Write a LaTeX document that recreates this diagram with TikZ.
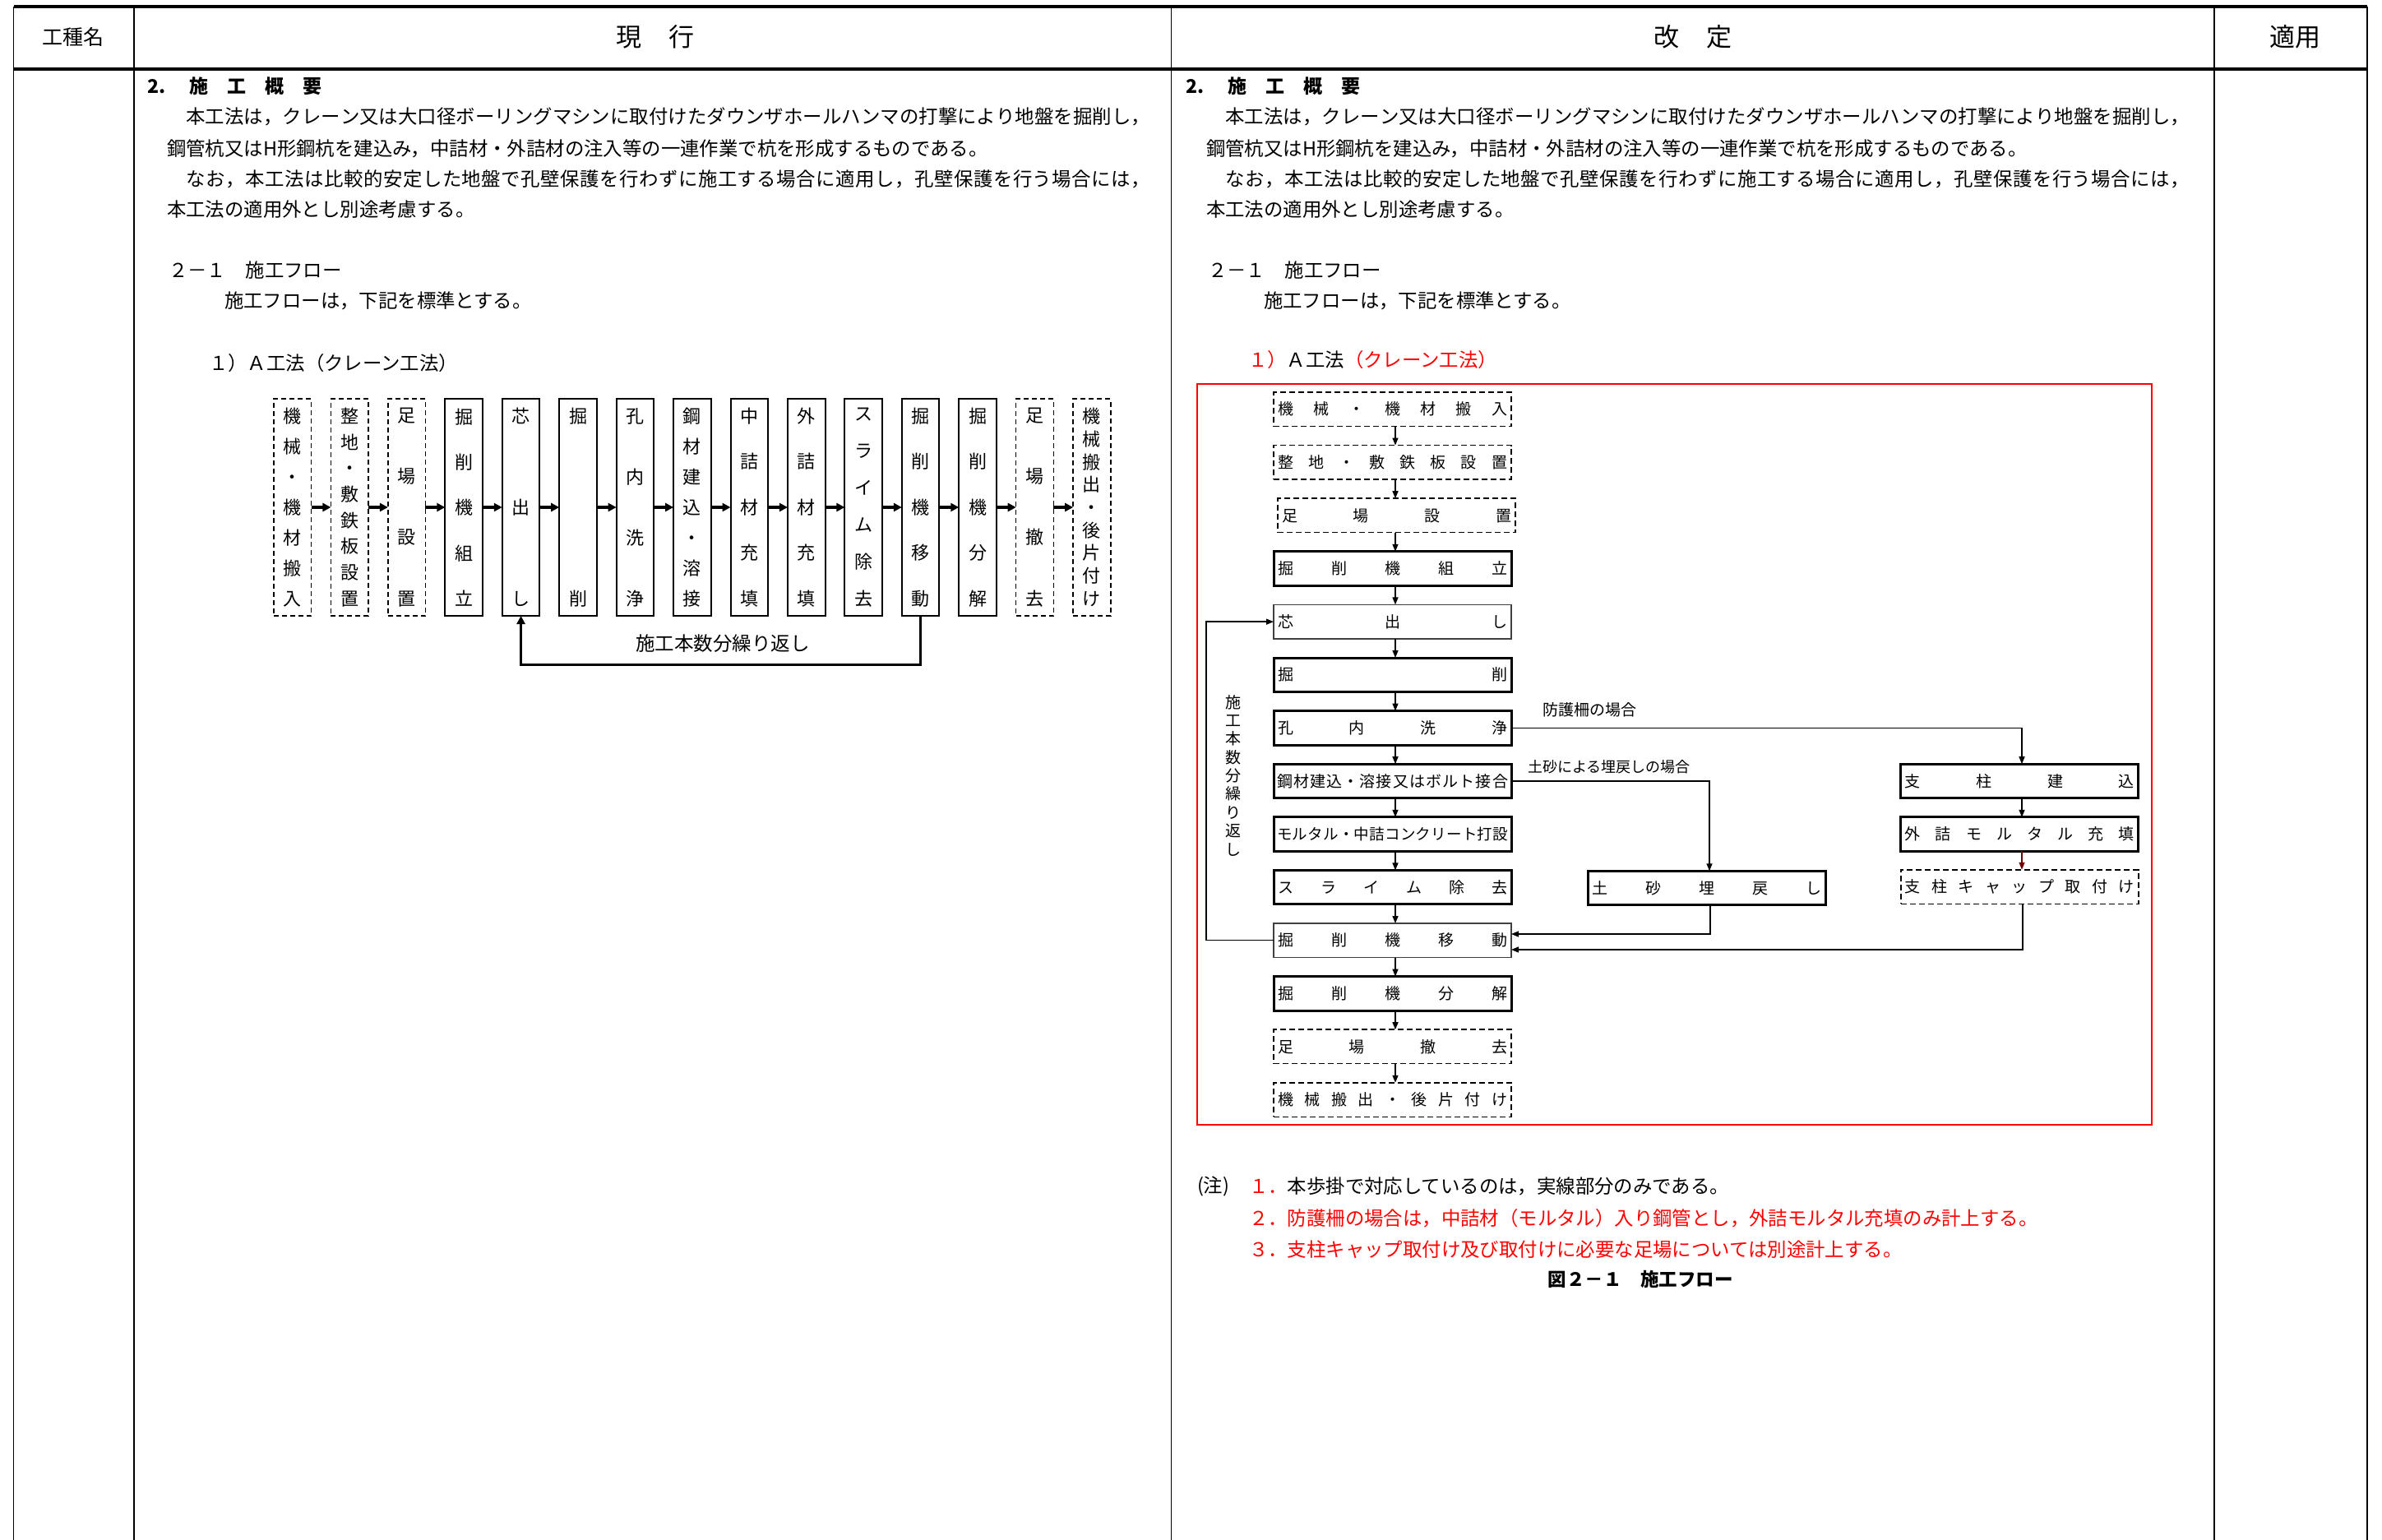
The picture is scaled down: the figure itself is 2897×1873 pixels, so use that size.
\documentclass[tikz,border=0pt]{standalone}
\usepackage{fontspec}
\setmainfont{Noto Sans CJK JP}
\usetikzlibrary{arrows.meta}
\newcommand\fsz[1]{\fontsize{#1}{#1}\selectfont}
\ExplSyntaxOn
\tl_new:N \l_mydist_tl
\NewDocumentCommand\HD{mm}{
  \hbox_to_wd:nn {#1} {
    \tl_set:Nx \l_mydist_tl {#2}
    \bool_set_true:N \l_tmpa_bool
    \tl_map_inline:Nn \l_mydist_tl {
      \bool_if:NTF \l_tmpa_bool {\bool_set_false:N \l_tmpa_bool} {\hfill}
      ##1
    }
  }
}
\NewDocumentCommand\VD{mm}{
  \parbox[c][#1][s]{1.2em}{
    \tl_set:Nx \l_mydist_tl {#2}
    \bool_set_true:N \l_tmpa_bool
    \tl_map_inline:Nn \l_mydist_tl {
      \bool_if:NTF \l_tmpa_bool {\bool_set_false:N \l_tmpa_bool} {\par\vfill}
      \hbox_to_wd:nn {\hsize} {\hss ##1 \hss}
    }
  }
}
\ExplSyntaxOff
\definecolor{darkred}{RGB}{110,0,0}
\begin{document}
\begin{tikzpicture}[x=1pt,y=-1pt,
  every node/.style={inner sep=0pt, outer sep=0pt},
  tline/.style={line width=1.5pt},
  thline/.style={line width=4pt},
  txt/.style={anchor=west, font=\fsz{23.4}},
  txtb/.style={anchor=west, font=\fsz{23}\bfseries},
  lbox/.style={draw, line width=2pt, minimum width=45.6, minimum height=264, font=\fsz{22}},
  ldash/.style={lbox, line width=1.5pt, dash pattern=on 6pt off 4pt},
  rbox/.style={draw, line width=3pt, minimum width=289, minimum height=41.5, font=\fsz{19}},
  rthin/.style={rbox, line width=1.5pt, draw=black!75},
  rdash/.style={rbox, line width=1.5pt, dash pattern=on 7pt off 4pt},
  arr/.style={-{Triangle[length=9pt,width=7pt]}, line width=1.4pt},
  larr/.style={-{Triangle[length=10pt,width=10pt]}, line width=3.5pt},
  lbl/.style={anchor=west, font=\fsz{19}}
]
\fill[white] (0,0) rectangle (2897,1873);
\useasboundingbox (0,0) rectangle (2897,1873);

% ---------- table ----------
\draw[thline] (16.6,8) -- (2879,8);
\draw[thline] (16.6,84) -- (2879,84);
\foreach \xx in {16.6,163,1424.5,2693,2879}
  \draw[tline] (\xx,8) -- (\xx,1873);

\node[font=\fsz{25}] (hA) at (89,45) {工種名};
\node[font=\fsz{31}] (hB) at (797,45) {現\hspace{33pt}行};
\node[font=\fsz{31}] (hC) at (2059,45) {改\hspace{33pt}定};
\node[font=\fsz{31}] (hD) at (2791,45) {適用};

% ---------- left column (現行) ----------
\node[txtb] (L0) at (179,105) {2.\hspace{29pt}施　工　概　要};
\node[txt] (L1) at (203,142) {\HD{1196pt}{　本工法は，クレーン又は大口径ボーリングマシンに取付けたダウンザホールハンマの打撃により地盤を掘削し，}};
\node[txt] (L2) at (203,181) {鋼管杭又はH形鋼杭を建込み，中詰材・外詰材の注入等の一連作業で杭を形成するものである。};
\node[txt] (L3) at (203,218) {\HD{1196pt}{　なお，本工法は比較的安定した地盤で孔壁保護を行わずに施工する場合に適用し，孔壁保護を行う場合には，}};
\node[txt] (L4) at (203,255) {本工法の適用外とし別途考慮する。};
\node[txt] (L5) at (205,329) {２－１　施工フロー};
\node[txt] (L6) at (273,366) {施工フローは，下記を標準とする。};
\node[txt] (L7) at (254,442) {１）Ａ工法（クレーン工法）};

% horizontal flow
\foreach \i/\t/\s in {1/機械・機材搬入/ldash, 2/整地・敷鉄板設置/ldash, 3/足場設置/ldash,
  4/掘削機組立/lbox, 5/芯出し/lbox, 6/掘削/lbox, 7/孔内洗浄/lbox, 8/鋼材建込・溶接/lbox,
  9/中詰材充填/lbox, 10/外詰材充填/lbox, 11/スライム除去/lbox, 12/掘削機移動/lbox,
  13/掘削機分解/lbox, 14/足場撤去/ldash, 15/機械搬出・後片付け/ldash}
  \node[\s] (l\i) at ({355.8+69.44*(\i-1)},617) {\VD{240pt}{\t}};
\foreach \i in {1,...,14}{
  \pgfmathtruncatemacro\j{\i+1}
  \draw[larr] (l\i.east) -- (l\j.west);
}
\coordinate (lb) at (0,808);
\draw[-{Triangle[length=10pt,width=10pt]}, line width=3pt]
  (l12.south) -- (l12.south |- lb) -- (l5.south |- lb) -- (l5.south);
\node[font=\fsz{23.5}] (ll) at (879,783) {施工本数分繰り返し};

% ---------- right column (改定) ----------
\node[txtb] (R0) at (1442,105) {2.\hspace{29pt}施　工　概　要};
\node[txt] (R1) at (1467,142) {\HD{1196pt}{　本工法は，クレーン又は大口径ボーリングマシンに取付けたダウンザホールハンマの打撃により地盤を掘削し，}};
\node[txt] (R2) at (1467,181) {鋼管杭又はH形鋼杭を建込み，中詰材・外詰材の注入等の一連作業で杭を形成するものである。};
\node[txt] (R3) at (1467,218) {\HD{1196pt}{　なお，本工法は比較的安定した地盤で孔壁保護を行わずに施工する場合に適用し，孔壁保護を行う場合には，}};
\node[txt] (R4) at (1467,255) {本工法の適用外とし別途考慮する。};
\node[txt] (R5) at (1469,329) {２－１　施工フロー};
\node[txt] (R6) at (1537,366) {施工フローは，下記を標準とする。};
\node[txt] (R7) at (1518,438) {\textcolor{red}{１）}Ａ工法\textcolor{red}{（クレーン工法）}};

\node[draw=red, line width=2.5pt, minimum width=1161, minimum height=901] (frame) at (2036.5,917.5) {};

% vertical flow
\node[rdash] (r1) at (1693.5,497.75) {\HD{279pt}{機械・機材搬入}};
\node[rdash] (r2) at (1693.5,562.35) {\HD{279pt}{整地・敷鉄板設置}};
\node[rdash] (r3) at (1698.5,626.95) {\HD{279pt}{足場設置}};
\node[rbox]  (r4) at (1693.5,691.55) {\HD{279pt}{掘削機組立}};
\node[rthin] (r5) at (1693.5,756.15) {\HD{279pt}{芯出し}};
\node[rbox]  (r6) at (1693.5,820.75) {\HD{279pt}{掘削}};
\node[rbox]  (r7) at (1693.5,885.35) {\HD{279pt}{孔内洗浄}};
\node[rbox]  (r8) at (1693.5,949.95) {\HD{281pt}{鋼材建込・溶接又はボルト接合}};
\node[rbox, font=\fsz{18.5}] (r9) at (1693.5,1014.55) {\HD{281pt}{モルタル・中詰コンクリート打設}};
\node[rbox]  (r10) at (1693.5,1079.15) {\HD{279pt}{スライム除去}};
\node[rthin] (r11) at (1693.5,1143.75) {\HD{279pt}{掘削機移動}};
\node[rbox]  (r12) at (1693.5,1208.35) {\HD{279pt}{掘削機分解}};
\node[rdash] (r13) at (1693.5,1272.95) {\HD{279pt}{足場撤去}};
\node[rdash] (r14) at (1693.5,1337.55) {\HD{279pt}{機械搬出・後片付け}};

\node[rbox]  (d1) at (2075.5,1080) {\HD{279pt}{土砂埋戻し}};
\node[rbox]  (s1) at (2456.3,949.95) {\HD{279pt}{支柱建込}};
\node[rbox]  (s2) at (2456.3,1014.55) {\HD{279pt}{外詰モルタル充填}};
\node[rdash] (s3) at (2456.3,1078.5) {\HD{279pt}{支柱キャップ取付け}};

\coordinate (ax) at (1697,0);
\coordinate (bx) at (2459,0);
\coordinate (cx) at (2079,0);
\coordinate (lp) at (1467,0);
\coordinate (j1) at (2080,1136);
\coordinate (j2) at (2460,1155);

\foreach \i in {1,...,13}{
  \pgfmathtruncatemacro\j{\i+1}
  \draw[arr] (r\i.south -| ax) -- (r\j.north -| ax);
}
\draw[arr] (r7.east) -- (r7.east -| bx) -- (s1.north -| bx);
\draw[arr] (s1.south -| bx) -- (s2.north -| bx);
\draw[arr, darkred] (s2.south -| bx) -- (s3.north -| bx);
\draw[arr] (r8.east) -- (r8.east -| cx) -- (d1.north -| cx);
\draw[arr] (d1.south -| j1) -- (j1) -- (j1 -| r11.east);
\draw[arr] (s3.south -| j2) -- (j2) -- (j2 -| r11.east);
\draw[arr] (r11.west) -- (r11.west -| lp) -- (r5.west -| lp) -- (r5.west);

\node[lbl] (t1) at (1876,863) {防護柵の場合};
\node[lbl, font=\fsz{18}] (t2) at (1858,933) {土砂による埋戻しの場合};
\node[font=\fsz{19}] (loopl) at (1500,943) {\VD{195pt}{施工本数分繰り返し}};

% notes
\node[txt] (n0) at (1456,1443) {(注)};
\node[txt] (n1) at (1519,1443) {\textcolor{red}{１．}本歩掛で対応しているのは，実線部分のみである。};
\node[txt, text=red] (n2) at (1519,1482) {２．防護柵の場合は，中詰材（モルタル）入り鋼管とし，外詰モルタル充填のみ計上する。};
\node[txt, text=red] (n3) at (1519,1520) {３．支柱キャップ取付け及び取付けに必要な足場については別途計上する。};
\node[font=\fsz{22.5}\bfseries] (cap) at (1995,1556) {図２－１　施工フロー};
\end{tikzpicture}
\end{document}
